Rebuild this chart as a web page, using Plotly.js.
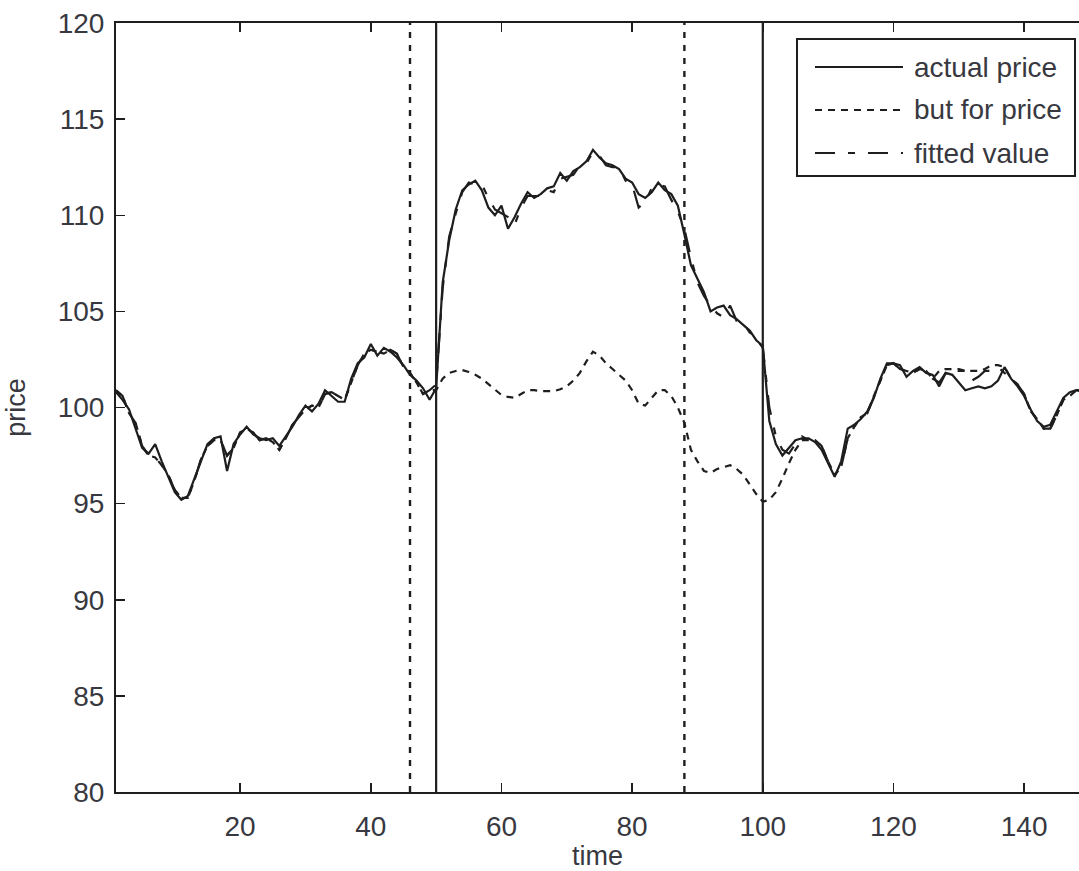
<!DOCTYPE html>
<html>
<head>
<meta charset="utf-8">
<script src="https://cdn.plot.ly/plotly-3.0.1.min.js"></script>
<style>
  html, body { margin: 0; padding: 0; background: #fff; overflow: hidden; }
  #chart { width: 1079px; height: 871px; }
</style>
</head>
<body>
<div id="chart"></div>
<script>
// ---------------- data ----------------
const actualPrice = [
  100.8,100.4,99.9,98.9,97.9,97.6,98.1,97.2,96.4,95.6,
  95.2,95.4,96.3,97.2,98.1,98.4,98.5,96.7,98.1,98.6,
  99.0,98.6,98.4,98.3,98.4,98.0,98.5,99.0,99.6,100.1,
  99.8,100.2,100.9,100.6,100.3,100.3,101.5,102.3,102.6,103.3,
  102.7,103.1,102.9,102.6,102.2,101.7,101.4,101.0,100.4,101.0,
  106.5,108.7,110.3,111.3,111.6,111.8,111.3,110.4,110.0,110.5,
  109.3,109.9,110.6,111.2,110.9,111.1,111.4,111.5,112.2,111.8,
  112.3,112.5,112.8,113.4,113.0,112.7,112.6,112.4,111.9,111.7,
  111.1,110.9,111.2,111.7,111.3,111.1,110.5,109.0,107.4,106.7,
  106.0,105.0,105.2,105.3,104.8,104.6,104.3,104.0,103.5,103.2,
  99.3,98.1,97.5,97.9,98.3,98.4,98.4,98.2,97.8,97.1,
  96.4,97.2,98.9,99.1,99.4,99.8,100.5,101.5,102.3,102.3,
  102.2,101.6,101.9,102.1,101.8,101.7,101.1,101.8,101.7,101.3,
  100.9,101.0,101.1,101.0,101.1,101.4,102.1,101.5,101.1,100.6,
  99.9,99.3,99.0,99.1,99.8,100.5,100.8,100.9,100.9
];
const fittedValue = [
  100.9,100.6,99.7,99.2,98.0,97.5,97.4,97.0,96.5,95.7,
  95.3,95.3,96.2,97.3,98.0,98.3,98.3,97.5,97.9,98.7,
  98.9,98.7,98.3,98.4,98.2,97.8,98.4,99.1,99.5,99.9,
  100.1,100.0,100.7,100.8,100.6,100.4,101.3,102.2,102.8,103.0,
  102.9,102.8,103.0,102.8,102.1,101.8,101.3,100.7,100.9,101.2,
  106.2,108.9,110.1,111.2,111.7,111.6,111.6,110.9,110.3,110.1,
  109.9,109.5,110.4,111.0,111.0,111.0,111.3,111.2,111.9,112.0,
  112.1,112.6,112.7,113.3,113.1,112.6,112.5,112.5,111.8,111.6,
  110.4,110.7,111.4,111.6,111.5,110.8,110.2,109.3,107.8,106.5,
  105.8,105.3,104.9,104.7,105.3,104.5,104.4,103.9,103.6,103.1,
  100.0,98.5,97.8,97.6,98.1,98.5,98.3,98.3,98.0,97.2,
  96.5,96.9,98.4,99.0,99.5,99.7,100.6,101.4,102.2,102.3,
  102.0,101.9,101.8,102.0,101.9,101.5,101.3,101.8,102.0,101.9,
  101.9,101.4,101.6,101.9,101.9,102.1,101.8,101.5,101.2,100.7,
  99.8,99.4,98.9,98.9,99.6,100.4,100.6,100.9,100.8
];
const butForPrice = [
  100.9,100.6,99.7,99.2,98.0,97.5,97.4,97.0,96.5,95.7,
  95.3,95.3,96.2,97.3,98.0,98.3,98.3,97.5,97.9,98.7,
  98.9,98.7,98.3,98.4,98.2,97.8,98.4,99.1,99.5,99.9,
  100.1,100.0,100.7,100.8,100.6,100.4,101.3,102.2,102.8,103.0,
  102.9,102.8,103.0,102.8,102.1,101.8,101.3,100.7,100.9,100.9,
  101.5,101.8,101.9,101.95,101.85,101.7,101.5,101.2,100.9,100.65,
  100.55,100.5,100.7,100.9,100.9,100.85,100.85,100.85,100.95,101.1,
  101.4,101.8,102.4,102.9,102.7,102.3,102.0,101.7,101.4,100.9,
  100.2,100.1,100.5,100.9,100.9,100.6,100.0,99.2,97.8,97.2,
  96.7,96.6,96.8,96.9,97.0,96.8,96.5,96.0,95.5,95.1,
  95.2,95.6,96.3,97.1,97.8,98.3,98.3,98.3,98.0,97.2,
  96.5,96.9,98.4,99.0,99.5,99.7,100.6,101.4,102.2,102.3,
  102.0,101.9,101.8,102.0,101.9,101.5,101.9,102.0,102.0,102.0,
  101.9,101.9,101.9,102.0,102.2,102.2,102.1,101.5,101.2,100.7,
  99.8,99.4,98.9,98.9,99.6,100.4,100.6,100.9,100.8
];
const time = actualPrice.map((_, i) => i + 1);
const solidMarkers = [50, 100];   // vertical solid lines
const dottedMarkers = [46, 88];   // vertical dotted lines
const xTicks = [20, 40, 60, 80, 100, 120, 140];
const yTicks = [80, 85, 90, 95, 100, 105, 110, 115, 120];
const yRange = [80, 120];
const xRange = [1, 148.4];
const legendLabels = ['actual price', 'but for price', 'fitted value'];

// ---------------- styles ----------------
const INK = '#1e1e1e';
const TXT = '#383840';
const FONT = '"Liberation Sans", Arial, Helvetica, sans-serif';
const dashes = ['solid', '7px,6px', '20px,13px,7px,13px'];
const LW = 2.2;

const traces = [];
traces.push({x: time, y: actualPrice, type: 'scatter', mode: 'lines',
  line: {color: INK, width: LW, dash: dashes[0]}, name: legendLabels[0], hoverinfo: 'skip'});
traces.push({x: time, y: butForPrice, type: 'scatter', mode: 'lines',
  line: {color: INK, width: LW, dash: dashes[1]}, name: legendLabels[1], hoverinfo: 'skip'});
traces.push({x: time, y: fittedValue, type: 'scatter', mode: 'lines',
  line: {color: INK, width: LW, dash: dashes[2]}, name: legendLabels[2], hoverinfo: 'skip'});
dottedMarkers.forEach(v => traces.push({x: [v, v], y: yRange, type: 'scatter', mode: 'lines',
  line: {color: INK, width: 2.4, dash: '6px,7px'}, showlegend: false, hoverinfo: 'skip'}));
solidMarkers.forEach(v => traces.push({x: [v, v], y: yRange, type: 'scatter', mode: 'lines',
  line: {color: INK, width: 2.2}, showlegend: false, hoverinfo: 'skip'}));

// plot area in pixels
const L = 116, R = 1079, T = 23, B = 792;
const xp = px => (px - L) / (R - L);
const yp = py => (B - py) / (B - T);

// hand-drawn legend box (MATLAB style)
const shapes = [{type: 'rect', xref: 'paper', yref: 'paper',
  x0: xp(797), x1: xp(1075), y0: yp(176), y1: yp(39),
  line: {color: INK, width: 2}, fillcolor: '#fff', layer: 'above'}];
const annotations = [];
const rowY = [67, 110, 153];
legendLabels.forEach((lab, i) => {
  shapes.push({type: 'line', xref: 'paper', yref: 'paper',
    x0: xp(815), x1: xp(903), y0: yp(rowY[i]), y1: yp(rowY[i]),
    line: {color: INK, width: LW, dash: dashes[i]}, layer: 'above'});
  annotations.push({xref: 'paper', yref: 'paper', x: xp(912), y: yp(rowY[i]),
    xanchor: 'left', yanchor: 'middle', showarrow: false, text: lab,
    font: {family: FONT, size: 28, color: TXT}});
});

const layout = {
  width: 1079, height: 871,
  margin: {l: L, r: 1079 - R, t: T, b: 871 - B, pad: 0},
  paper_bgcolor: '#fff', plot_bgcolor: '#fff',
  showlegend: false,
  font: {family: FONT, size: 28, color: TXT},
  xaxis: {range: xRange, tickvals: xTicks, ticktext: xTicks.map(String),
    ticks: 'inside', ticklen: 9, tickwidth: 1.5, tickcolor: INK,
    showline: true, linecolor: INK, linewidth: 2, mirror: 'ticks',
    showgrid: false, zeroline: false, ticklabelstandoff: 8,
    tickfont: {family: FONT, size: 28, color: TXT},
    title: {text: 'time', font: {family: FONT, size: 27, color: TXT}, standoff: 6}},
  yaxis: {range: yRange, tickvals: yTicks, ticktext: yTicks.map(String),
    ticks: 'inside', ticklen: 9, tickwidth: 1.5, tickcolor: INK,
    showline: true, linecolor: INK, linewidth: 2, mirror: false,
    showgrid: false, zeroline: false, ticklabelstandoff: 4,
    tickfont: {family: FONT, size: 28, color: TXT},
    title: {text: 'price', font: {family: FONT, size: 27, color: TXT}, standoff: 24}},
  shapes: shapes,
  annotations: annotations
};

Plotly.newPlot('chart', traces, layout, {displayModeBar: false, staticPlot: true});
</script>
</body>
</html>
